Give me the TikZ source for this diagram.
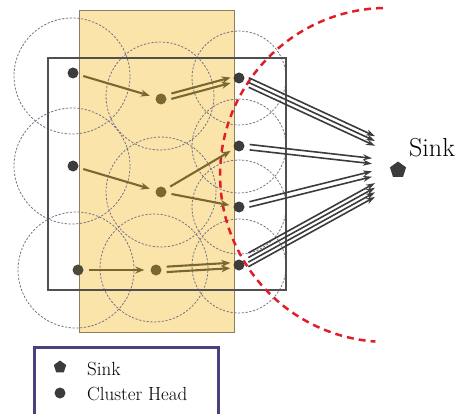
\documentclass[tikz,border=0pt]{standalone}
\usetikzlibrary{shapes.geometric,arrows.meta}
\definecolor{yel}{RGB}{251,228,170}
\definecolor{yelb}{RGB}{140,125,95}
\definecolor{olive}{RGB}{122,104,50}
\definecolor{dk}{RGB}{60,60,60}
\definecolor{cg}{RGB}{115,115,135}
\definecolor{rd}{RGB}{225,30,40}
\definecolor{lg}{RGB}{75,63,125}
\begin{document}
\begin{tikzpicture}[x=1pt,y=-1pt,
  dot/.style={circle,fill=dk,inner sep=0pt,minimum size=11pt},
  mdot/.style={circle,fill=olive,inner sep=0pt,minimum size=11pt},
  pent/.style={regular polygon,regular polygon sides=5,fill=dk,inner sep=0pt,minimum size=17pt},
  rng/.style={draw=cg,dash pattern=on 2.2pt off 1.6pt,line width=0.8pt},
  oarr/.style={draw=olive,line width=2.1pt,-{Stealth[length=9pt,width=7pt]},shorten <=5pt},
  barr/.style={draw=dk,line width=1.6pt,-{Stealth[length=9pt,width=6pt]},shorten <=5pt}]
\useasboundingbox (0,0) rectangle (465,414);
% yellow region
\fill[yel] (79,11) rectangle (234,332);
% coverage circles
\draw[rng] (72,76) circle[radius=58pt];
\draw[rng] (72,166) circle[radius=58pt];
\draw[rng] (76,270) circle[radius=58pt];
\draw[rng] (160,96) circle[radius=54pt];
\draw[rng] (161,192) circle[radius=55pt];
\draw[rng] (154,268) circle[radius=54pt];
\draw[rng] (239,78) circle[radius=47pt];
\draw[rng] (239,146) circle[radius=47pt];
\draw[rng] (239,207) circle[radius=47pt];
\draw[rng] (239,266) circle[radius=47pt];
\draw[yelb,line width=1pt] (79,11) rectangle (234,332);
% field
\draw[dk!90,line width=1.2pt] (48,58) rectangle (286,290);
% red range arc
\draw[rd,line width=2.5pt,dash pattern=on 7pt off 5pt] (383,8) arc[start angle=91.4,end angle=266,radius=167pt];
% nodes
\node[dot] (L1) at (73,73) {};
\node[dot] (L2) at (73,166) {};
\node[dot,fill=dk!70!olive] (L3) at (78,270) {};
\node[mdot] (M1) at (161,99) {};
\node[mdot] (M2) at (161,192) {};
\node[mdot] (M3) at (156,270) {};
\node[dot] (R1) at (239,78) {};
\node[dot] (R2) at (239,146) {};
\node[dot] (R3) at (239,207) {};
\node[dot] (R4) at (239,265) {};
\node[pent] (S) at (398,170) {};
\node[anchor=base west,font=\fontsize{26}{30}\selectfont,inner sep=0pt] (SL) at (409,157) {Sink};
\coordinate (t1) at (375,141);
\coordinate (t2) at (372,161);
\coordinate (t3) at (372,174);
\coordinate (t4) at (375,190);
% olive arrows
\draw[oarr,shorten >=6pt] (L1) -- (M1);
\draw[oarr,shorten >=6pt] (L2) -- (M2);
\draw[oarr,shorten >=6pt] (L3) -- (M3);
\foreach \s in {-2.7,2.7}{
  \draw[oarr,shorten >=3pt,transform canvas={yshift=\s pt}] (M1) -- (R1);
  \draw[oarr,shorten >=3pt,transform canvas={yshift=\s pt}] (M3) -- (R4);
}
\draw[oarr,shorten >=4pt] (M2) -- (R2);
\draw[oarr,shorten >=4pt] (M2) -- (R3);
% to sink
\foreach \s in {-4.8,0,4.8}
  \draw[barr,transform canvas={yshift=\s pt}] (R1) -- (t1);
\foreach \s in {-2.7,2.7}{
  \draw[barr,transform canvas={yshift=\s pt}] (R2) -- (t2);
  \draw[barr,transform canvas={yshift=\s pt}] (R3) -- (t3);
}
\foreach \s in {-6.9,-2.3,2.3,6.9}
  \draw[barr,transform canvas={yshift=\s pt}] (R4) -- (t4);
% legend
\draw[lg,line width=3pt] (34,418) -- (34,347) -- (218,347) -- (218,418);
\node[pent,minimum size=13pt] (LS) at (60,367) {};
\node[dot,minimum size=11pt] (LC) at (60,393) {};
\node[anchor=base west,font=\fontsize{19}{22}\selectfont,inner sep=0pt] (T1) at (87,375) {Sink};
\node[anchor=base west,font=\fontsize{19}{22}\selectfont,inner sep=0pt] (T2) at (87,400) {Cluster Head};
\end{tikzpicture}
\end{document}
